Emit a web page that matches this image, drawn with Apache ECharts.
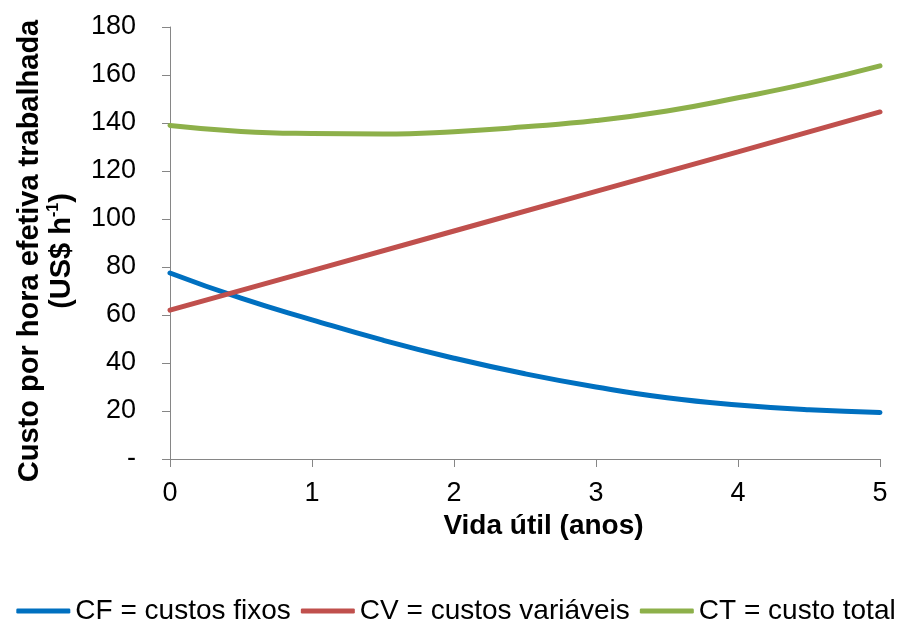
<!DOCTYPE html>
<html>
<head>
<meta charset="utf-8">
<script src="https://cdn.jsdelivr.net/npm/echarts@6/dist/echarts.min.js"></script>
<style>html,body{margin:0;padding:0;background:#fff}#c{width:912px;height:620px}</style>
</head>
<body>
<div id="c"></div>
<script>
const xValues = [0, 0.5, 1, 1.5, 2, 2.5, 3, 3.5, 4, 4.5, 5];
const cfValues = [77.5, 67, 58, 49.5, 42, 35.5, 30, 25.5, 22.5, 20.5, 19.4];
const cvX = [0, 1, 2, 3, 4, 5];
const cvValues = [62, 78.5, 95, 111.5, 128, 144.6];
const ctValues = [139, 136.5, 135.6, 135.4, 136.4, 138.4, 141, 145, 150.5, 156.6, 163.8];
const seriesNames = ['CF = custos fixos', 'CV = custos variáveis', 'CT = custo total'];
const yTicks = [0, 20, 40, 60, 80, 100, 120, 140, 160, 180];

const font = 'Liberation Sans, Arial, sans-serif';
const chart = echarts.init(document.getElementById('c'));
chart.setOption({
  animation: false,
  textStyle: { fontFamily: font },
  grid: { left: 170, right: 32, top: 27, bottom: 161 },
  xAxis: {
    type: 'value', min: 0, max: 5, interval: 1,
    name: 'Vida útil (anos)', nameLocation: 'middle', nameGap: 48,
    nameTextStyle: { fontSize: 28, fontWeight: 'bold', color: '#000', fontFamily: font, padding: [0, 0, 0, 37] },
    axisLine: { lineStyle: { color: '#868686', width: 1 } },
    axisTick: { show: true, length: 8, lineStyle: { color: '#868686' } },
    axisLabel: { fontSize: 27, color: '#000', margin: 21, fontFamily: font },
    splitLine: { show: false }
  },
  yAxis: {
    type: 'value', min: 0, max: 180, interval: 20,
    name: 'Custo por hora efetiva trabalhada\n{b|(US$ h}{sup|-1}{b|)}',
    nameLocation: 'middle', nameGap: 92, nameRotate: 90,
    nameTextStyle: {
      fontSize: 29, fontWeight: 'bold', color: '#000', fontFamily: font, lineHeight: 32,
      padding: [0, 16, 0, 0],
      rich: {
        b: { fontSize: 29, fontWeight: 'bold', color: '#000', fontFamily: font, lineHeight: 32 },
        sup: { fontSize: 16, fontWeight: 'bold', color: '#000', fontFamily: font, verticalAlign: 'top', lineHeight: 32, padding: [0, 0, 12, 0] }
      }
    },
    axisLine: { show: true, lineStyle: { color: '#868686', width: 1 } },
    axisTick: { show: true, length: 8, lineStyle: { color: '#868686' } },
    axisLabel: {
      fontSize: 27, color: '#000', margin: 34, fontFamily: font,
      formatter: v => (yTicks.includes(v) ? (v === 0 ? '-' : String(v)) : '')
    },
    splitLine: { show: false }
  },
  legend: {
    top: 592, left: 'center', itemWidth: 54, itemHeight: 5, itemGap: 10,
    textStyle: { fontSize: 28, color: '#000', fontFamily: font },
    data: seriesNames.map(n => ({ name: n, icon: 'roundRect' }))
  },
  series: [
    { name: seriesNames[0], type: 'line', smooth: true, symbol: 'none', color: '#0070C0',
      lineStyle: { width: 5, color: '#0070C0', cap: 'round' },
      data: xValues.map((x, i) => [x, cfValues[i]]) },
    { name: seriesNames[1], type: 'line', smooth: false, symbol: 'none', color: '#C0504D',
      lineStyle: { width: 5, color: '#C0504D', cap: 'round' },
      data: cvX.map((x, i) => [x, cvValues[i]]) },
    { name: seriesNames[2], type: 'line', smooth: true, symbol: 'none', color: '#8DB04A',
      lineStyle: { width: 5, color: '#8DB04A', cap: 'round' },
      data: xValues.map((x, i) => [x, ctValues[i]]) }
  ]
});
</script>
</body>
</html>
